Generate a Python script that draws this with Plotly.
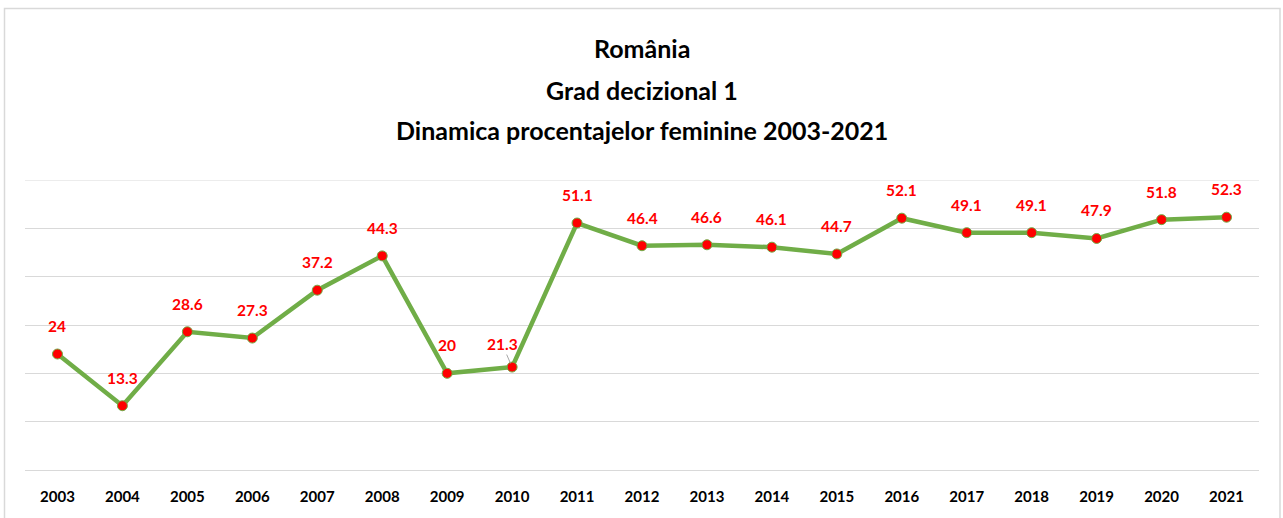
import plotly.graph_objects as go

years = ["2003", "2004", "2005", "2006", "2007", "2008", "2009", "2010", "2011", "2012",
         "2013", "2014", "2015", "2016", "2017", "2018", "2019", "2020", "2021"]
values = [24, 13.3, 28.6, 27.3, 37.2, 44.3, 20, 21.3, 51.1, 46.4,
          46.6, 46.1, 44.7, 52.1, 49.1, 49.1, 47.9, 51.8, 52.3]
labels = ["24", "13.3", "28.6", "27.3", "37.2", "44.3", "20", "21.3", "51.1", "46.4",
          "46.6", "46.1", "44.7", "52.1", "49.1", "49.1", "47.9", "51.8", "52.3"]
title_lines = ["România", "Grad decizional 1", "Dinamica procentajelor feminine 2003-2021"]
y_max = 60

FONT = "Lato"
W, H = 1283, 518
ML, MR, MT, MB = 25, 24, 180, 48
PH = H - MT - MB
PW = W - ML - MR


def py(p):
    return (H - MB - p) / PH


def px(p):
    return (p - ML) / PW


fig = go.Figure()
fig.add_trace(go.Scatter(
    x=years, y=values, mode="lines+markers",
    line=dict(color="#70AD47", width=4.5),
    marker=dict(color="#FF0000", size=10, line=dict(color="#70AD47", width=1)),
    hoverinfo="x+y", showlegend=False,
))

label_font = dict(family=FONT, size=15.5, color="#FF0000", weight="bold")
annotations = []
for i, (x, v, t) in enumerate(zip(years, values, labels)):
    if x == "2010":
        annotations.append(dict(
            x=i, y=v, xref="x", yref="y", text=t, showarrow=True,
            ax=-10, ay=-23, arrowhead=0, arrowwidth=1, arrowcolor="#A6A6A6",
            standoff=4, font=label_font,
        ))
    else:
        annotations.append(dict(
            x=i, y=v, xref="x", yref="y", text=t, showarrow=False, yshift=28,
            yanchor="middle", font=label_font,
        ))

for line, ypix in zip(title_lines, [48, 90, 130]):
    annotations.append(dict(
        x=0.5, y=py(ypix), xref="paper", yref="paper", text=line, showarrow=False,
        yanchor="middle", xanchor="center",
        font=dict(family=FONT, size=25, color="#000000", weight="bold"),
    ))

fig.update_layout(
    width=W, height=H,
    margin=dict(l=ML, r=MR, t=MT, b=MB),
    paper_bgcolor="white", plot_bgcolor="white",
    annotations=annotations,
    shapes=[
        dict(type="rect", xref="paper", yref="paper",
             x0=px(4.5), x1=px(1280), y0=py(530), y1=py(8.5),
             line=dict(color="#D9D9D9", width=1.5), layer="below"),
        dict(type="line", xref="paper", yref="y", x0=0, x1=1, y0=y_max, y1=y_max,
             line=dict(color="#D9D9D9", width=1), layer="below"),
    ],
    xaxis=dict(
        type="category", range=[-0.5, len(years) - 0.5],
        showgrid=False, showline=False, zeroline=False,
        ticks="", ticklabelstandoff=16,
        tickfont=dict(family=FONT, size=15, color="#000000", weight="bold"),
    ),
    yaxis=dict(
        range=[0, y_max], dtick=10,
        showgrid=True, gridcolor="#D9D9D9", gridwidth=1,
        zeroline=True, zerolinecolor="#D9D9D9", zerolinewidth=1,
        showticklabels=False, showline=False,
    ),
    hovermode="closest",
)

fig.write_html("out.html", config={"displayModeBar": False},
               post_script="document.body.style.margin='0';")
